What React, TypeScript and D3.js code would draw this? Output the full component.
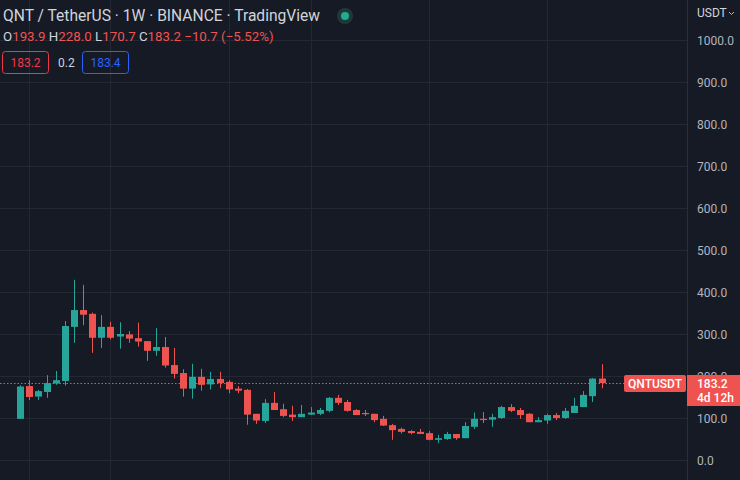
import * as d3 from 'd3';
import { useEffect, useRef } from 'react';

// weekly candles, QNT/USDT
const opens = [98, 176, 151, 162, 182, 188, 317, 357, 348, 291, 317, 294, 299, 290, 283, 260, 269, 226, 207, 170, 198, 180, 193, 186, 170, 167, 110, 93, 136, 121, 108, 102, 108, 110, 117, 148, 138, 119, 112, 110, 98, 83, 74, 69, 67, 64, 48, 50, 62, 52, 79, 98, 96, 100, 126, 119, 110, 90, 94, 107, 100, 112, 126, 152, 193.9];
const highs = [178, 190, 167, 202, 212, 331, 429, 417, 351, 345, 329, 328, 307, 327, 283, 314, 293, 267, 216, 229, 217, 210, 210, 190, 176, 169, 110, 145, 162, 134, 129, 131, 126, 124, 150, 155, 143, 121, 119, 110, 105, 86, 77, 71, 74, 69, 60, 67, 62, 90, 113, 114, 110, 129, 133, 124, 112, 102, 110, 112, 124, 148, 164, 195, 228.0];
const lows = [98, 143, 143, 148, 179, 177, 279, 321, 255, 267, 287, 265, 279, 270, 236, 248, 220, 194, 151, 146, 165, 168, 171, 159, 159, 84, 86, 88, 119, 102, 93, 102, 107, 107, 114, 131, 115, 107, 105, 90, 81, 48, 63, 61, 62, 47, 40, 48, 48, 52, 74, 88, 79, 98, 114, 98, 90, 90, 86, 95, 98, 112, 126, 138, 170.7];
const closes = [175, 150, 164, 183, 190, 319, 357, 346, 291, 317, 291, 300, 289, 282, 260, 269, 225, 205, 170, 198, 179, 193, 183, 168, 165, 108, 94, 136, 119, 105, 102, 110, 113, 119, 148, 136, 117, 107, 109, 95, 82, 71, 67, 64, 62, 48, 52, 62, 52, 81, 98, 95, 102, 126, 117, 107, 90, 95, 107, 100, 117, 129, 155, 193.9, 183.2];

const priceTicks = [0, 100, 200, 300, 400, 500, 600, 700, 800, 900, 1000];
const gridWeeks = [1, 10, 23, 32, 45, 58];

const UP = '#26a69a';
const DOWN = '#ef5350';
const BG = '#161a25';
const GRID = '#242834';
const FONT = 'Roboto, "DejaVu Sans", sans-serif';

const CandleChart: React.FC = () => {
    const ref = useRef<SVGSVGElement | null>(null);

    useEffect(() => {
        if (!ref.current) return;
        const width = 740;
        const height = 480;
        const axisX = 687;

        const svg = d3.select(ref.current);
        svg.selectAll('*').remove();

        const x = d3.scaleLinear().domain([0, 64]).range([19.5, 601.5]);
        const y = d3.scaleLinear().domain([0, 1000]).range([460, 40]);
        const bw = 7;

        svg.append('rect').attr('width', width).attr('height', height).attr('fill', BG);

        // grid
        svg.append('g').selectAll('line').data(priceTicks).enter().append('line')
            .attr('x1', 0).attr('x2', axisX)
            .attr('y1', d => Math.round(y(d)) + 0.5).attr('y2', d => Math.round(y(d)) + 0.5)
            .attr('stroke', GRID).attr('stroke-width', 1);
        svg.append('g').selectAll('line').data(gridWeeks).enter().append('line')
            .attr('x1', d => Math.round(x(d)) + 0.5).attr('x2', d => Math.round(x(d)) + 0.5)
            .attr('y1', 0).attr('y2', height)
            .attr('stroke', GRID).attr('stroke-width', 1);

        // axis border
        svg.append('line')
            .attr('x1', axisX + 0.5).attr('x2', axisX + 0.5).attr('y1', 0).attr('y2', height)
            .attr('stroke', '#2a2e39');

        const idx = d3.range(opens.length);

        // wicks
        svg.append('g').selectAll('line').data(idx).enter().append('line')
            .attr('x1', i => Math.round(x(i)) + 0.5).attr('x2', i => Math.round(x(i)) + 0.5)
            .attr('y1', i => y(highs[i])).attr('y2', i => y(lows[i]))
            .attr('stroke', i => closes[i] >= opens[i] ? UP : DOWN)
            .attr('stroke-width', 1);

        // bodies
        svg.append('g').selectAll('rect').data(idx).enter().append('rect')
            .attr('x', i => Math.round(x(i)) + 0.5 - bw / 2)
            .attr('width', bw)
            .attr('y', i => y(Math.max(opens[i], closes[i])))
            .attr('height', i => Math.max(1, Math.abs(y(opens[i]) - y(closes[i]))))
            .attr('fill', i => closes[i] >= opens[i] ? UP : DOWN);

        // last price line
        const last = closes[closes.length - 1];
        const py = Math.round(y(last)) + 0.5;
        svg.append('line')
            .attr('x1', 0).attr('x2', 624).attr('y1', py).attr('y2', py)
            .attr('stroke', DOWN).attr('stroke-width', 1).attr('stroke-dasharray', '1.5,2');

        // price axis labels
        svg.append('g').selectAll('text').data(priceTicks).enter().append('text')
            .attr('x', 697).attr('y', d => y(d) + 4.5)
            .attr('fill', '#b2b5be').attr('font-family', FONT).attr('font-size', 12)
            .text(d => d3.format('.1f')(d));

        svg.append('text')
            .attr('x', 697).attr('y', 17)
            .attr('fill', '#d1d4dc').attr('font-family', FONT).attr('font-size', 12)
            .text('USDT');
        svg.append('path')
            .attr('d', 'M729,12 L731.5,14.5 L734,12')
            .attr('fill', 'none').attr('stroke', '#b2b5be').attr('stroke-width', 1);

        // symbol + last price labels
        svg.append('rect')
            .attr('x', 624).attr('y', 375).attr('width', 62).attr('height', 17).attr('rx', 2)
            .attr('fill', DOWN);
        svg.append('text')
            .attr('x', 655).attr('y', 388).attr('text-anchor', 'middle')
            .attr('fill', '#ffffff').attr('font-family', FONT).attr('font-size', 12).attr('font-weight', 500)
            .text('QNTUSDT');
        svg.append('rect')
            .attr('x', 687).attr('y', 375).attr('width', 53).attr('height', 31)
            .attr('fill', DOWN);
        svg.append('text')
            .attr('x', 697).attr('y', 388)
            .attr('fill', '#ffffff').attr('font-family', FONT).attr('font-size', 12).attr('font-weight', 500)
            .text(d3.format('.1f')(last));
        svg.append('text')
            .attr('x', 697).attr('y', 402)
            .attr('fill', '#ffffff').attr('font-family', FONT).attr('font-size', 12).attr('font-weight', 500)
            .text('4d 12h');

        // header
        svg.append('text')
            .attr('x', 3).attr('y', 21)
            .attr('fill', '#d1d4dc').attr('font-family', FONT).attr('font-size', 15.6)
            .text('QNT / TetherUS · 1W · BINANCE · TradingView');
        svg.append('circle').attr('cx', 345).attr('cy', 16).attr('r', 8).attr('fill', '#1d3a37');
        svg.append('circle').attr('cx', 345).attr('cy', 16).attr('r', 4).attr('fill', '#22ab94');

        const o = opens[opens.length - 1];
        const h = highs[highs.length - 1];
        const l = lows[lows.length - 1];
        const chg = last - o;
        const ohlc = svg.append('text')
            .attr('x', 3).attr('y', 41)
            .attr('font-family', FONT).attr('font-size', 13.3);
        const parts: [string, string][] = [
            ['O', d3.format('.1f')(o)],
            [' H', d3.format('.1f')(h)],
            [' L', d3.format('.1f')(l)],
            [' C', d3.format('.1f')(last)],
        ];
        parts.forEach(([k, v]) => {
            ohlc.append('tspan').attr('fill', '#d1d4dc').text(k);
            ohlc.append('tspan').attr('fill', DOWN).text(v);
        });
        ohlc.append('tspan').attr('fill', DOWN)
            .text(` ${d3.format('.1f')(chg)} (${d3.format('.2f')(chg / o * 100)}%)`);

        // bid / spread / ask boxes
        svg.append('rect')
            .attr('x', 2.5).attr('y', 51.5).attr('width', 46).attr('height', 22).attr('rx', 3)
            .attr('fill', 'none').attr('stroke', '#f23645');
        svg.append('text')
            .attr('x', 25.5).attr('y', 67).attr('text-anchor', 'middle')
            .attr('fill', '#f23645').attr('font-family', FONT).attr('font-size', 12)
            .text('183.2');
        svg.append('text')
            .attr('x', 58).attr('y', 67)
            .attr('fill', '#d1d4dc').attr('font-family', FONT).attr('font-size', 12)
            .text('0.2');
        svg.append('rect')
            .attr('x', 82.5).attr('y', 51.5).attr('width', 46).attr('height', 22).attr('rx', 3)
            .attr('fill', 'none').attr('stroke', '#2962ff');
        svg.append('text')
            .attr('x', 105.5).attr('y', 67).attr('text-anchor', 'middle')
            .attr('fill', '#2962ff').attr('font-family', FONT).attr('font-size', 12)
            .text('183.4');
    }, []);

    return (
        <svg ref={ref} width={740} height={480}
            style={{ position: 'absolute', left: 0, top: 0, display: 'block' }} />
    );
};

export default function App() {
    return <CandleChart />;
}
